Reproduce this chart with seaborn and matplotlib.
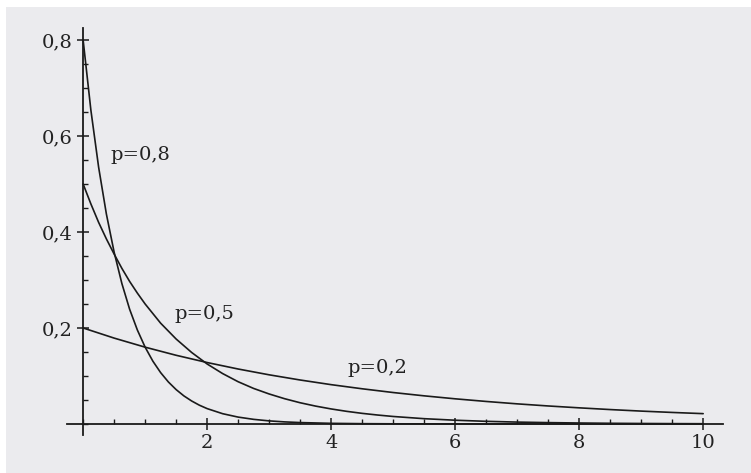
import matplotlib
matplotlib.use("Agg")
import matplotlib.pyplot as plt
import matplotlib.patches as mpatches
import seaborn as sns
from matplotlib.ticker import MultipleLocator, FixedLocator, FuncFormatter

# values
x_p08 = [0, 0.125, 0.25, 0.375, 0.5, 0.625, 0.75, 0.875, 1, 1.125, 1.25, 1.375,
         1.5, 1.625, 1.75, 1.875, 2, 2.25, 2.5, 2.75, 3, 3.25, 3.5, 4, 4.5, 5, 6, 8, 10]
y_p08 = [0.800, 0.654, 0.535, 0.4375, 0.358, 0.2926, 0.239, 0.1957, 0.160, 0.1308,
         0.107, 0.0875, 0.0716, 0.0585, 0.0479, 0.0391, 0.032, 0.0214, 0.0143,
         0.0096, 0.0064, 0.0043, 0.0029, 0.0013, 0.0006, 0.0003, 0.0001, 0.0, 0.0]

x_p05 = [0, 0.125, 0.25, 0.375, 0.5, 0.625, 0.75, 0.875, 1, 1.25, 1.5, 1.75, 2,
         2.25, 2.5, 2.75, 3, 3.25, 3.5, 3.75, 4, 4.25, 4.5, 4.75, 5, 5.5, 6, 6.5,
         7, 7.5, 8, 8.5, 9, 9.5, 10]
y_p05 = [0.500, 0.4585, 0.420, 0.3856, 0.354, 0.3242, 0.297, 0.2726, 0.250, 0.210,
         0.177, 0.149, 0.125, 0.105, 0.088, 0.074, 0.0625, 0.0526, 0.0442, 0.0372,
         0.0313, 0.0263, 0.0221, 0.0186, 0.0156, 0.0110, 0.0078, 0.0055, 0.0039,
         0.0028, 0.0020, 0.0014, 0.0010, 0.0007, 0.0005]

x_p02 = [0, 0.5, 1, 1.5, 2, 2.5, 3, 3.5, 4, 4.5, 5, 5.5, 6, 6.5, 7, 7.5, 8, 8.5,
         9, 9.5, 10]
y_p02 = [0.200, 0.1789, 0.160, 0.1431, 0.128, 0.1145, 0.1024, 0.0916, 0.0819,
         0.0733, 0.0655, 0.0586, 0.0524, 0.0469, 0.0419, 0.0375, 0.0336, 0.0300,
         0.0268, 0.0240, 0.0215]

labels = ["p=0,8", "p=0,5", "p=0,2"]
label_pos = [(0.44, 0.56), (1.48, 0.23), (4.27, 0.117)]

x_major = [2, 4, 6, 8, 10]
y_major = [0.2, 0.4, 0.6, 0.8]

sns.set_style("white")
plt.rcParams["font.family"] = ["DejaVu Serif"]

fig = plt.figure(figsize=(7.51, 4.73), dpi=100, facecolor="white")
# paper-like panel behind the plot
fig.patches.append(mpatches.Rectangle((6 / 751, 0), 745 / 751, 466 / 473,
                                      transform=fig.transFigure,
                                      facecolor="#ebebee", edgecolor="none", zorder=-10))

ax = fig.add_axes([67 / 751, 38 / 473, 656 / 751, 407 / 473])
ax.patch.set_alpha(0)

line_kw = dict(color="#1a1a1a", linewidth=1.2, ax=ax)
sns.lineplot(x=x_p08, y=y_p08, **line_kw)
sns.lineplot(x=x_p05, y=y_p05, **line_kw)
sns.lineplot(x=x_p02, y=y_p02, **line_kw)

for txt, (tx, ty) in zip(labels, label_pos):
    ax.text(tx, ty, txt, ha="left", va="center", fontsize=14, color="#222222")

ax.set_xlim(-0.26, 10.32)
ax.set_ylim(-0.023, 0.825)

# Mathematica style axes crossing at the origin
for s in ["top", "right"]:
    ax.spines[s].set_visible(False)
ax.spines["left"].set_position(("data", 0))
ax.spines["bottom"].set_position(("data", 0))
for s in ["left", "bottom"]:
    ax.spines[s].set_linewidth(1.3)
    ax.spines[s].set_color("#1a1a1a")

ax.xaxis.set_major_locator(FixedLocator(x_major))
ax.xaxis.set_minor_locator(MultipleLocator(0.5))
ax.yaxis.set_major_locator(FixedLocator(y_major))
ax.yaxis.set_minor_locator(MultipleLocator(0.05))
ax.yaxis.set_major_formatter(FuncFormatter(lambda v, p: f"{v:.1f}".replace(".", ",")))
ax.xaxis.set_major_formatter(FuncFormatter(lambda v, p: f"{v:g}"))

ax.tick_params(which="both", bottom=True, left=True, top=False, right=False)
ax.tick_params(which="major", direction="inout", length=8.5, width=1.1,
               color="#1a1a1a", labelsize=14, labelcolor="#222222", pad=3)
ax.tick_params(which="minor", direction="in", length=3.8, width=1.0, color="#1a1a1a")
ax.set_xlabel("")
ax.set_ylabel("")

plt.savefig("out.png", dpi=100, facecolor=fig.get_facecolor())
